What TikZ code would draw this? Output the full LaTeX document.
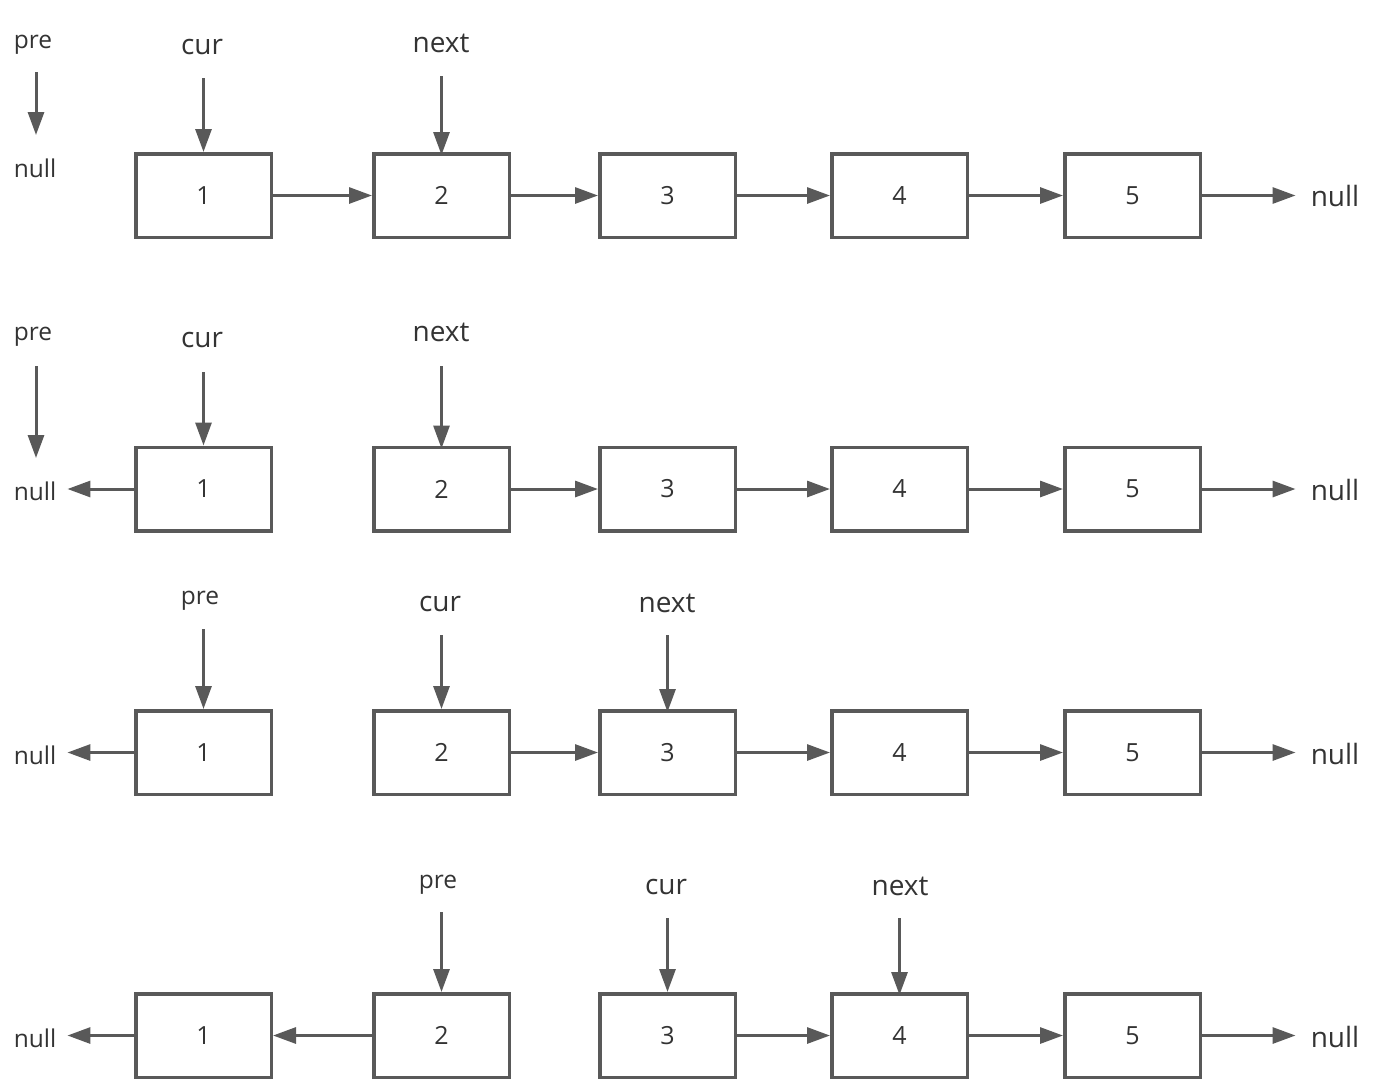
\documentclass[tikz,border=0pt]{standalone}
\usepackage{fontspec}
\setmainfont{Open Sans}
\usetikzlibrary{arrows.meta}
\definecolor{lc}{HTML}{595959}
\definecolor{tc}{HTML}{333333}
\tikzset{
  box/.style={draw=lc, line width=3.5pt, minimum width=135.5pt, minimum height=83.5pt, inner sep=0pt, text=tc, font=\fontsize{25}{25}\selectfont},
  ptr/.style={draw=lc, line width=3pt, -{Triangle[length=23pt,width=16pt]}},
  lblbig/.style={text=tc, inner sep=0pt, font=\fontsize{28}{28}\selectfont},
  lblsmall/.style={text=tc, inner sep=0pt, font=\fontsize{24.5}{24.5}\selectfont},
}
\begin{document}
\begin{tikzpicture}[x=1pt,y=-1pt]
\useasboundingbox (0,0) rectangle (1378,1085);
% columns
\def\xa{203.5}\def\xb{441.5}\def\xc{667.5}\def\xd{899.5}\def\xe{1132.5}
% ---------------- row 1
\foreach \n/\x in {1/\xa,2/\xb,3/\xc,4/\xd,5/\xe}
  \node[box] (a\n) at (\x,195.5) {\n};
\node[lblsmall] (apre) at (33,45) {pre};
\node[lblsmall] (anull) at (35,168) {null};
\node[lblbig] (acur) at (202,47) {cur};
\node[lblbig] (anext) at (441,43) {next};
\node[lblbig] (anullr) at (1335,196) {null};
\draw[ptr, shorten <=27pt, shorten >=33pt] (apre.center -| 36,0) -- (anull.center -| 36,0);
\draw[ptr, shorten <=31pt] (acur.center -| a1.north) -- (a1.north);
\draw[ptr, shorten <=33pt, shorten >=-3pt] (anext.center -| a2.north) -- (a2.north);
\draw[ptr] (a1) -- (a2);
\draw[ptr] (a2) -- (a3);
\draw[ptr] (a3) -- (a4);
\draw[ptr] (a4) -- (a5);
\draw[ptr, shorten >=15pt] (a5.east) -- (a5.east -| anullr.west);
% ---------------- row 2
\foreach \n/\x in {1/\xa,2/\xb,3/\xc,4/\xd,5/\xe}
  \node[box] (b\n) at (\x,489) {\n};
\node[lblsmall] (bpre) at (33,337) {pre};
\node[lblbig] (bcur) at (202,340) {cur};
\node[lblbig] (bnext) at (441,332) {next};
\node[lblsmall] (bnull) at (35,491) {null};
\node[lblbig] (bnullr) at (1335,490) {null};
\coordinate (bpreend) at (36,458);
\draw[ptr, shorten <=29pt] (bpre.center -| bpreend) -- (bpreend);
\draw[ptr, shorten <=32pt] (bcur.center -| b1.north) -- (b1.north);
\draw[ptr, shorten <=34pt, shorten >=-3pt] (bnext.center -| b2.north) -- (b2.north);
\draw[ptr, shorten >=11pt] (b1.west) -- (b1.west -| bnull.east);
\draw[ptr] (b2) -- (b3);
\draw[ptr] (b3) -- (b4);
\draw[ptr] (b4) -- (b5);
\draw[ptr, shorten >=15pt] (b5.east) -- (b5.east -| bnullr.west);
% ---------------- row 3
\foreach \n/\x in {1/\xa,2/\xb,3/\xc,4/\xd,5/\xe}
  \node[box] (c\n) at (\x,752.5) {\n};
\node[lblsmall] (cpre) at (200,601) {pre};
\node[lblbig] (ccur) at (440,604) {cur};
\node[lblbig] (cnext) at (667,603) {next};
\node[lblsmall] (cnull) at (35,755) {null};
\node[lblbig] (cnullr) at (1335,754) {null};
\draw[ptr, shorten <=28pt] (cpre.center -| c1.north) -- (c1.north);
\draw[ptr, shorten <=31pt] (ccur.center -| c2.north) -- (c2.north);
\draw[ptr, shorten <=32pt, shorten >=-3pt] (cnext.center -| c3.north) -- (c3.north);
\draw[ptr, shorten >=11pt] (c1.west) -- (c1.west -| cnull.east);
\draw[ptr] (c2) -- (c3);
\draw[ptr] (c3) -- (c4);
\draw[ptr] (c4) -- (c5);
\draw[ptr, shorten >=15pt] (c5.east) -- (c5.east -| cnullr.west);
% ---------------- row 4
\foreach \n/\x in {1/\xa,2/\xb,3/\xc,4/\xd,5/\xe}
  \node[box] (d\n) at (\x,1035.5) {\n};
\node[lblsmall] (dpre) at (438,885) {pre};
\node[lblbig] (dcur) at (666,887) {cur};
\node[lblbig] (dnext) at (900,886) {next};
\node[lblsmall] (dnull) at (35,1038) {null};
\node[lblbig] (dnullr) at (1335,1037) {null};
\draw[ptr, shorten <=27pt] (dpre.center -| d2.north) -- (d2.north);
\draw[ptr, shorten <=31pt] (dcur.center -| d3.north) -- (d3.north);
\draw[ptr, shorten <=32pt, shorten >=-3pt] (dnext.center -| d4.north) -- (d4.north);
\draw[ptr, shorten >=11pt] (d1.west) -- (d1.west -| dnull.east);
\draw[ptr] (d2) -- (d1);
\draw[ptr] (d3) -- (d4);
\draw[ptr] (d4) -- (d5);
\draw[ptr, shorten >=15pt] (d5.east) -- (d5.east -| dnullr.west);
\end{tikzpicture}
\end{document}
